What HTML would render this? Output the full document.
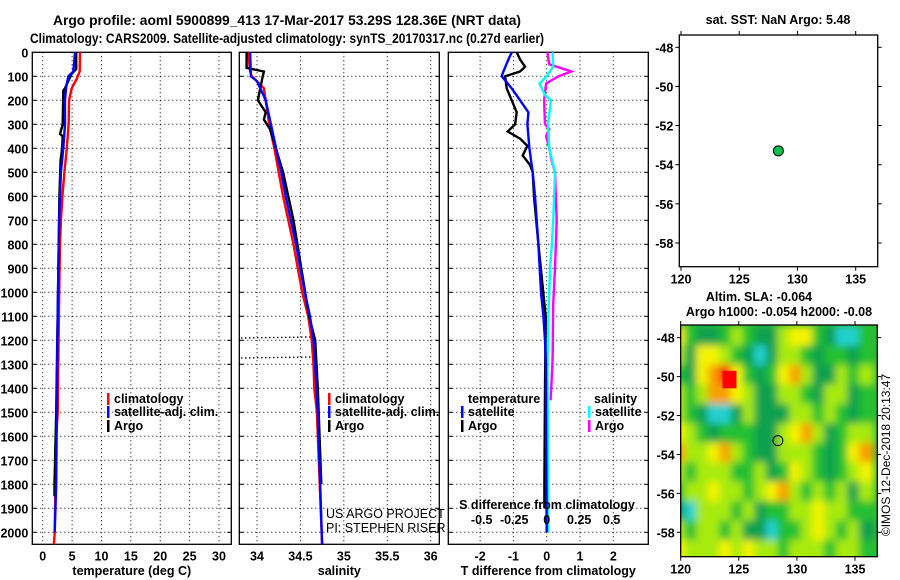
<!DOCTYPE html>
<html><head><meta charset="utf-8"><style>
body{margin:0;background:#fff;}
svg{display:block;font-family:"Liberation Sans",sans-serif;}
.b{font-weight:bold;}
</style></head><body>
<svg id="c" width="900" height="580" viewBox="0 0 900 580">
<defs>
<filter id="blur" x="-10%" y="-10%" width="120%" height="120%"><feGaussianBlur stdDeviation="4"/></filter>
<clipPath id="mapclip"><rect x="680.7" y="325" width="196.6" height="231.7"/></clipPath>
</defs>
<text class="b" x="287" y="25" font-size="13.5" text-anchor="middle" textLength="468" lengthAdjust="spacingAndGlyphs">Argo profile: aoml 5900899_413 17-Mar-2017 53.29S 128.36E (NRT data)</text>
<text class="b" x="287" y="43" font-size="13.5" text-anchor="middle" textLength="514" lengthAdjust="spacingAndGlyphs">Climatology: CARS2009. Satellite-adjusted climatology: synTS_20170317.nc (0.27d earlier)</text>
<g id="g"></g>
</svg>
<script>
// ---------- data ----------
const depthTicks=[0,100,200,300,400,500,600,700,800,900,1000,1100,1200,1300,1400,1500,1600,1700,1800,1900,2000];
const tempTicks=[0,5,10,15,20,25,30];
const salTicks=[34,34.5,35,35.5,36];
const salTickLabels=["34","34.5","35","35.5","36"];
const dTTicks=[-2,-1,0,1,2];
const dSTicks=[-0.5,-0.25,0,0.25,0.5];
const dSTickLabels=["-0.5","-0.25","0","0.25","0.5"];
// temperature profiles
const tClimDepth=[0,80,110,150,200,300,400,500,600,700,800,1000,1200,1500,1600,2000,2050];
const tClim=[6.35,6.3,5.8,4.93,4.5,4.4,4.1,3.7,3.35,3.1,2.95,2.8,2.7,2.55,2.3,2.05,1.9];
const tSatDepth=[0,80,100,150,200,300,400,500,600,700,900,1200,1500,1800,2000];
const tSat=[5.5,5.2,4.36,3.96,3.8,3.8,3.5,3.1,2.95,2.8,2.67,2.5,2.4,2.3,2.05];
const tArgoDepth=[0,70,90,150,160,300,340,350,400,450,600,1000,1500,1800,1850];
const tArgo=[5.7,5.7,4.9,3.8,3.5,3.4,2.95,3.4,3.3,3.05,2.85,2.6,2.3,2.0,2.0];
// salinity profiles
const sClimDepth=[0,80,100,150,200,300,400,500,600,700,800,900,1000,1100,1200,1300,1400,1500,2050];
const sClim=[33.9,33.92,33.94,34.08,34.1,34.14,34.2,34.25,34.3,34.36,34.42,34.47,34.52,34.59,34.63,34.65,34.66,34.69,34.75];
const sSatDepth=[0,100,120,200,300,400,500,600,700,800,900,1000,1100,1200,1300,1500,2050];
const sSat=[33.92,33.93,34.0,34.1,34.16,34.22,34.28,34.33,34.39,34.45,34.5,34.55,34.61,34.65,34.67,34.7,34.75];
const sArgoDepth=[0,65,80,110,200,250,280,320,500,700,900,1100,1200,1400,1800];
const sArgo=[33.88,33.88,34.08,34.06,34.01,34.1,34.08,34.15,34.3,34.42,34.51,34.6,34.67,34.7,34.74];
// differences
const dTSatDepth=[0,30,80,100,150,200,250,300,400,500,600,700,800,1000,1100,1200,1300,1500,2000];
const dTSat=[-1.05,-1.15,-1.3,-1.35,-1.05,-0.8,-0.55,-0.58,-0.52,-0.42,-0.35,-0.3,-0.25,-0.17,-0.1,-0.05,-0.02,-0.02,0];
const dTArgoDepth=[0,30,60,80,100,150,200,250,300,330,360,390,430,470,500,600,800,1100,1400,1800,1900];
const dTArgo=[-0.9,-0.8,-0.65,-0.8,-1.25,-1.2,-1.05,-0.9,-0.95,-1.17,-0.8,-0.58,-0.72,-0.5,-0.42,-0.38,-0.25,-0.03,-0.05,-0.07,-0.07];
const dSSatDepth=[0,60,100,130,180,200,300,400,500,700,800,900,1100,1300,2000];
const dSSat=[0.046,0.05,0,-0.056,-0.01,0.033,0.01,0.02,0.064,0.05,0.04,0.025,0.013,0.005,0.013];
const dSArgoDepth=[0,50,80,100,130,200,300,320,350,400,450,500,700,900,1050,1250,1300,1450];
const dSArgo=[0.005,0.02,0.19,0.09,-0.005,-0.02,-0.013,0.02,-0.005,0.02,0.038,0.064,0.077,0.064,0.05,0.046,0.044,0.03];
// maps
const lonTicks=[120,125,130,135];
const latTicks=[-48,-50,-52,-54,-56,-58];
const floatLon=128.36, floatLat=-53.29;
const slaLons=[120,121,122,123,124,125,126,127,128,129,130,131,132,133,134,135,136];
const slaLats=[-48,-49,-50,-51,-52,-53,-54,-55,-56,-57,-58,-59];
const slaGrid=[
[2,0,-1,-1,0,1,0,-1,-1,1,2,2,0,-1,-2,-2,0],
[1,-1,2,2,1,0,-1,-2,-1,1,1,0,-1,0,0,-1,0],
[0,-1,2,3,4,2,0,-1,0,2,3,1,-1,-1,1,0,1],
[1,0,1,3,3,2,1,-1,-1,1,1,0,-1,1,1,-1,0],
[1,0,-1,-2,-2,-1,1,-1,-1,-1,1,1,0,1,0,-1,0],
[2,1,0,-1,0,0,0,-1,-1,1,2,3,1,-1,0,1,1],
[3,1,1,2,3,1,0,-1,-1,1,1,1,0,-1,0,2,3],
[1,0,1,1,1,0,0,1,-1,0,2,1,0,-1,0,1,2],
[0,1,1,2,1,1,0,1,2,3,1,0,1,0,1,-1,1],
[-1,-2,1,1,1,0,1,-1,0,0,1,1,2,1,1,0,0],
[1,0,1,1,0,1,-1,-1,-2,0,0,1,2,1,0,1,-1],
[2,1,1,1,2,1,2,1,1,0,1,1,1,0,1,1,0]];

// ---------- helpers ----------
const NS="http://www.w3.org/2000/svg";
const G=document.getElementById('g');
function mk(tag,attrs,parent,txt){const e=document.createElementNS(NS,tag);for(const k in attrs)e.setAttribute(k,attrs[k]);if(txt!==undefined)e.textContent=txt;(parent||G).appendChild(e);return e;}
const yTop=52.3,yBot=544.3;
function yD(d){return yTop+d*0.24;}
function linear(d0,d1,r0,r1){return v=>r0+(v-d0)/(d1-d0)*(r1-r0);}
const xT=linear(0,30,42.7,219);
const xS=linear(34,36,257,430.7);
const xDT=linear(0,2,546.7,613.3);
const xDS=linear(0,0.5,546.7,611.7);

function panel(name,x0,x1,ticksX,xf,labels,xlabel,showY){
  const p=mk('g',{});
  
  
  ticksX.forEach(t=>{const l=mk('line',{x1:xf(t),x2:xf(t),y1:yTop,y2:yBot,stroke:'#000','stroke-width':1,'stroke-dasharray':'1 3'},p);
    
    });
  depthTicks.forEach(d=>{if(d===0)return;const l=mk('line',{x1:x0,x2:x1,y1:yD(d),y2:yD(d),stroke:'#000','stroke-width':1,'stroke-dasharray':'1 3'},p);
    
    
    mk('line',{x1:x0,x2:x0+4,y1:yD(d),y2:yD(d),stroke:'#000'},p);
    mk('line',{x1:x1-4,x2:x1,y1:yD(d),y2:yD(d),stroke:'#000'},p);});
  const r=mk('rect',{x:x0,y:yTop,width:x1-x0,height:yBot-yTop,fill:'none',stroke:'#000','stroke-width':1.3},p);
  
  
  if(labels){ticksX.forEach((t,i)=>{const tx=mk('text',{x:xf(t),y:yBot+16,'font-size':12.5,'text-anchor':'middle','class':'b'},p,labels[i]);
    
    });}
  const xl=mk('text',{x:(x0+x1)/2,y:575,'font-size':12.5,'text-anchor':'middle','class':'b'},p,xlabel);
  
  
  if(showY){depthTicks.forEach(d=>{const tx=mk('text',{x:x0-4,y:yD(d)+5,'font-size':12.5,'text-anchor':'end','class':'b'},p,String(d));
    
    });}
  return p;
}
function series(parent,name,depths,vals,xf,color,w){
  let pts=depths.map((d,i)=>xf(vals[i]).toFixed(1)+','+yD(d).toFixed(1)).join(' ');
  const l=mk('polyline',{points:pts,fill:'none',stroke:color,'stroke-width':w||2.4,'stroke-linejoin':'miter'},parent);
  
  
}
function legend(parent,x,y,color,label){
  const b=mk('rect',{x:x,y:y-10,width:2.5,height:12,fill:color},parent);
  
  
  const t=mk('text',{x:x+7,y:y,'font-size':12.5,'class':'b'},parent,label);
  
  
}

// panel 1 temperature
const p1=panel('temperature-panel',32.3,231.3,tempTicks,xT,tempTicks.map(String),'temperature (deg C)',true);
series(p1,'temp-climatology-line',tClimDepth,tClim,xT,'#ff0000');
series(p1,'temp-argo-line',tArgoDepth,tArgo,xT,'#000000');
series(p1,'temp-satellite-line',tSatDepth,tSat,xT,'#0000ff');
legend(p1,107,403,'#ff0000','climatology');
legend(p1,107,416,'#0000ff','satellite-adj. clim.');
legend(p1,107,430,'#000000','Argo');

// panel 2 salinity
const p2=panel('salinity-panel',239.3,439.3,salTicks,xS,salTickLabels,'salinity',false);
[[338,310],[358,313]].forEach(a=>{const l=mk('line',{x1:241,x2:a[1],y1:a[0],y2:a[0]-1,stroke:'#000','stroke-width':1.3,'stroke-dasharray':'1.5 2.5'},p2);
  
  });
series(p2,'sal-climatology-line',sClimDepth,sClim,xS,'#ff0000');
series(p2,'sal-argo-line',sArgoDepth,sArgo,xS,'#000000');
series(p2,'sal-satellite-line',sSatDepth,sSat,xS,'#0000ff');
legend(p2,328,403,'#ff0000','climatology');
legend(p2,328,416,'#0000ff','satellite-adj. clim.');
legend(p2,328,430,'#000000','Argo');
const pr1=mk('text',{x:326,y:518,'font-size':12.5},p2,'US ARGO PROJECT');


const pr2=mk('text',{x:326,y:532,'font-size':12.5},p2,'PI: STEPHEN RISER');



// panel 3 differences
const p3=panel('difference-panel',448.3,648.3,dTTicks,xDT,dTTicks.map(String),'T difference from climatology',false);
series(p3,'sdiff-argo-line',dSArgoDepth,dSArgo,xDS,'#ff00ff');
series(p3,'sdiff-satellite-line',dSSatDepth,dSSat,xDS,'#00ffff');
series(p3,'tdiff-argo-line',dTArgoDepth,dTArgo,xDT,'#000000');
series(p3,'tdiff-satellite-line',dTSatDepth,dTSat,xDT,'#0000ff');
const st=mk('text',{x:547,y:509,'font-size':12.5,'text-anchor':'middle','class':'b'},p3,'S difference from climatology');


dSTicks.forEach((t,i)=>{const tx=mk('text',{x:xDS(t),y:524,'font-size':12.5,'text-anchor':'middle','class':'b'},p3,dSTickLabels[i]);
  
  });
const lt=mk('text',{x:468,y:403,'font-size':12.5,'class':'b'},p3,'temperature');


const ls=mk('text',{x:594,y:403,'font-size':12.5,'class':'b'},p3,'salinity');


legend(p3,461,416,'#0000ff','satellite');
legend(p3,461,430,'#000000','Argo');
legend(p3,588,416,'#00ffff','satellite');
legend(p3,588,430,'#ff00ff','Argo');

// map helpers
function mapAxes(parent,x0,y0,x1,y1,lx,ly,top){
  lonTicks.forEach(t=>{const x=lx(t);
    mk('line',{x1:x,x2:x,y1:top?y0:y1,y2:top?y0-4:y1+4,stroke:'#000'},parent);
    if(!top)mk('line',{x1:x,x2:x,y1:y0,y2:y0-4,stroke:'#000'},parent);
    else mk('line',{x1:x,x2:x,y1:y1,y2:y1+4,stroke:'#000'},parent);
    const tx=mk('text',{x:x,y:y1+17,'font-size':12.5,'text-anchor':'middle','class':'b'},parent,String(t));
    
    });
  latTicks.forEach(t=>{const y=ly(t);
    mk('line',{x1:x0,x2:x0-4,y1:y,y2:y,stroke:'#000'},parent);
    mk('line',{x1:x1,x2:x1+4,y1:y,y2:y,stroke:'#000'},parent);
    const tx=mk('text',{x:x0-6,y:y+5,'font-size':12.5,'text-anchor':'end','class':'b'},parent,String(t));
    
    });
  const r=mk('rect',{x:x0,y:y0,width:x1-x0,height:y1-y0,fill:'none',stroke:'#000','stroke-width':1.3},parent);
  
  
}
// SST map
const m1=mk('g',{});


const lx1=linear(120,135,681,855.7), ly1=linear(-48,-58,47.3,243);
mk('rect',{x:679.3,y:35,width:198.4,height:231.7,fill:'#fff'},m1);
mapAxes(m1,679.3,35,877.7,266.7,lx1,ly1,true);
const sstT=mk('text',{x:778,y:24,'font-size':12.5,'text-anchor':'middle','class':'b'},m1,'sat. SST: NaN Argo: 5.48');


const dot=mk('circle',{cx:lx1(floatLon),cy:ly1(floatLat),r:5,fill:'#00c050',stroke:'#000','stroke-width':1},m1);



// SLA map
const m2=mk('g',{});


const lx2=linear(120,135,680.7,855), ly2=linear(-48,-58,337.7,532.3);
const palette={'-2':'#20d0d0','-1':'#10a050','0':'#20c030','1':'#a8ea10','2':'#f4f400','3':'#f8a000','4':'#ff1000'};
const clipG=mk('g',{'clip-path':'url(#mapclip)'},m2);
mk('rect',{x:680.7,y:325,width:196.6,height:231.7,fill:'#30b838'},clipG);
const heat=mk('g',{filter:'url(#blur)'},clipG);


const cw=lx2(121)-lx2(120), ch=ly2(-49)-ly2(-48);
slaLats.forEach((la,i)=>slaLons.forEach((lo,j)=>{
  const c=mk('rect',{x:lx2(lo)-cw/2-2,y:ly2(la)-ch/2-2,width:cw+4,height:ch+4,fill:palette[String(slaGrid[i][j])]},heat);
  
  
}));
const red=mk('rect',{x:lx2(123.6),y:ly2(-49.7),width:lx2(124.8)-lx2(123.6),height:ly2(-50.6)-ly2(-49.7),fill:'#ff0000'},clipG);


mapAxes(m2,680.7,325,877.3,556.7,lx2,ly2,false);
const o=mk('circle',{cx:lx2(floatLon),cy:ly2(floatLat),r:5,fill:'none',stroke:'#000','stroke-width':1},m2);


const a1=mk('text',{x:759,y:301,'font-size':12.5,'text-anchor':'middle','class':'b'},m2,'Altim. SLA: -0.064');


const a2=mk('text',{x:779,y:316,'font-size':12.5,'text-anchor':'middle','class':'b'},m2,'Argo h1000: -0.054 h2000: -0.08');


const cr=mk('text',{x:0,y:0,'font-size':12,'text-anchor':'middle',transform:'translate(890,455) rotate(-90)'},m2,'©IMOS 12-Dec-2018 20:13:47');


</script>
</body></html>
